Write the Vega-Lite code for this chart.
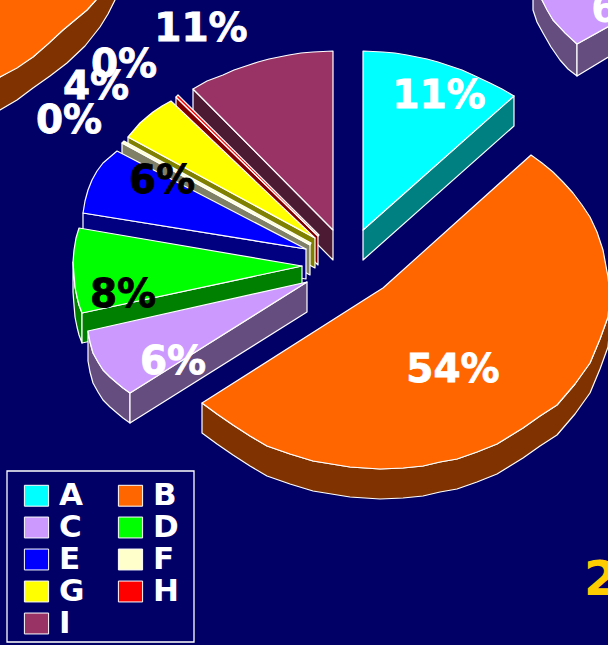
{"$schema":"https://vega.github.io/schema/vega-lite/v6.json","width":608,"height":645,"autosize":{"type":"fit","contains":"padding"},"padding":0,"background":"#000066","view":{"stroke":null},
"datasets":{"faces":[
{"p":"left","g":"B side","n":1,"x":-10,"y":115},{"p":"left","g":"B side","n":2,"x":0,"y":110},{"p":"left","g":"B side","n":3,"x":17,"y":100},{"p":"left","g":"B side","n":4,"x":33,"y":88},{"p":"left","g":"B side","n":5,"x":50,"y":76},{"p":"left","g":"B side","n":6,"x":67,"y":63},{"p":"left","g":"B side","n":7,"x":85,"y":46},{"p":"left","g":"B side","n":8,"x":100,"y":27},{"p":"left","g":"B side","n":9,"x":108,"y":14},{"p":"left","g":"B side","n":10,"x":115,"y":0},{"p":"left","g":"B side","n":11,"x":120,"y":-10},{"p":"left","g":"B side","n":12,"x":96,"y":-10},{"p":"left","g":"B side","n":13,"x":96,"y":0},{"p":"left","g":"B side","n":14,"x":87,"y":10},{"p":"left","g":"B side","n":15,"x":63,"y":30},{"p":"left","g":"B side","n":16,"x":33,"y":57},{"p":"left","g":"B side","n":17,"x":0,"y":77},{"p":"left","g":"B side","n":18,"x":-10,"y":82},
{"p":"left","g":"B","n":1,"x":-10,"y":82},{"p":"left","g":"B","n":2,"x":0,"y":77},{"p":"left","g":"B","n":3,"x":17,"y":68},{"p":"left","g":"B","n":4,"x":33,"y":57},{"p":"left","g":"B","n":5,"x":48,"y":44},{"p":"left","g":"B","n":6,"x":63,"y":30},{"p":"left","g":"B","n":7,"x":75,"y":20},{"p":"left","g":"B","n":8,"x":87,"y":10},{"p":"left","g":"B","n":9,"x":96,"y":0},{"p":"left","g":"B","n":10,"x":96,"y":-10},{"p":"left","g":"B","n":11,"x":-10,"y":-10},
{"p":"right1","g":"C side","n":1,"x":533,"y":-10},{"p":"right1","g":"C side","n":2,"x":533,"y":10},{"p":"right1","g":"C side","n":3,"x":537,"y":22},{"p":"right1","g":"C side","n":4,"x":543,"y":33},{"p":"right1","g":"C side","n":5,"x":551,"y":47},{"p":"right1","g":"C side","n":6,"x":560,"y":60},{"p":"right1","g":"C side","n":7,"x":568,"y":69},{"p":"right1","g":"C side","n":8,"x":577,"y":76},{"p":"right1","g":"C side","n":9,"x":577,"y":44},{"p":"right1","g":"C side","n":10,"x":553,"y":20},{"p":"right1","g":"C side","n":11,"x":542,"y":0},{"p":"right1","g":"C side","n":12,"x":540,"y":-10},
{"p":"right2","g":"C side","n":1,"x":577,"y":76},{"p":"right2","g":"C side","n":2,"x":620,"y":50},{"p":"right2","g":"C side","n":3,"x":620,"y":20},{"p":"right2","g":"C side","n":4,"x":577,"y":44},
{"p":"right","g":"C","n":1,"x":540,"y":-10},{"p":"right","g":"C","n":2,"x":542,"y":0},{"p":"right","g":"C","n":3,"x":547,"y":10},{"p":"right","g":"C","n":4,"x":553,"y":20},{"p":"right","g":"C","n":5,"x":565,"y":33},{"p":"right","g":"C","n":6,"x":577,"y":44},{"p":"right","g":"C","n":7,"x":620,"y":20},{"p":"right","g":"C","n":8,"x":620,"y":-10},
{"p":"main","g":"I side","n":1,"x":193,"y":89},{"p":"main","g":"I side","n":2,"x":333,"y":230},{"p":"main","g":"I side","n":3,"x":333,"y":260},{"p":"main","g":"I side","n":4,"x":193,"y":119},
{"p":"main","g":"I","n":1,"x":333,"y":230},{"p":"main","g":"I","n":2,"x":193,"y":89},{"p":"main","g":"I","n":3,"x":207,"y":81},{"p":"main","g":"I","n":4,"x":223,"y":75},{"p":"main","g":"I","n":5,"x":234,"y":70},{"p":"main","g":"I","n":6,"x":246,"y":66},{"p":"main","g":"I","n":7,"x":258,"y":62},{"p":"main","g":"I","n":8,"x":269,"y":59},{"p":"main","g":"I","n":9,"x":289,"y":55},{"p":"main","g":"I","n":10,"x":301,"y":53},{"p":"main","g":"I","n":11,"x":313,"y":52},{"p":"main","g":"I","n":12,"x":333,"y":51},
{"p":"main","g":"H side","n":1,"x":176,"y":97},{"p":"main","g":"H side","n":2,"x":318,"y":236},{"p":"main","g":"H side","n":3,"x":318,"y":265},{"p":"main","g":"H side","n":4,"x":176,"y":127},
{"p":"main","g":"H","n":1,"x":176,"y":97},{"p":"main","g":"H","n":2,"x":178,"y":95},{"p":"main","g":"H","n":3,"x":319,"y":235},{"p":"main","g":"H","n":4,"x":318,"y":236},
{"p":"main","g":"G side","n":1,"x":128,"y":137},{"p":"main","g":"G side","n":2,"x":315,"y":238},{"p":"main","g":"G side","n":3,"x":315,"y":268},{"p":"main","g":"G side","n":4,"x":128,"y":167},
{"p":"main","g":"G","n":1,"x":315,"y":238},{"p":"main","g":"G","n":2,"x":128,"y":137},{"p":"main","g":"G","n":3,"x":134,"y":130},{"p":"main","g":"G","n":4,"x":140,"y":123},{"p":"main","g":"G","n":5,"x":147,"y":117},{"p":"main","g":"G","n":6,"x":153,"y":112},{"p":"main","g":"G","n":7,"x":162,"y":106},{"p":"main","g":"G","n":8,"x":171,"y":101},
{"p":"main","g":"F side","n":1,"x":122,"y":143},{"p":"main","g":"F side","n":2,"x":310,"y":245},{"p":"main","g":"F side","n":3,"x":310,"y":275},{"p":"main","g":"F side","n":4,"x":122,"y":173},
{"p":"main","g":"F","n":1,"x":122,"y":143},{"p":"main","g":"F","n":2,"x":124,"y":141},{"p":"main","g":"F","n":3,"x":311,"y":243},{"p":"main","g":"F","n":4,"x":310,"y":245},
{"p":"main","g":"E side","n":1,"x":83,"y":213},{"p":"main","g":"E side","n":2,"x":306,"y":249},{"p":"main","g":"E side","n":3,"x":306,"y":279},{"p":"main","g":"E side","n":4,"x":83,"y":243},
{"p":"main","g":"E","n":1,"x":306,"y":249},{"p":"main","g":"E","n":2,"x":83,"y":213},{"p":"main","g":"E","n":3,"x":85,"y":201},{"p":"main","g":"E","n":4,"x":88,"y":190},{"p":"main","g":"E","n":5,"x":92,"y":180},{"p":"main","g":"E","n":6,"x":97,"y":171},{"p":"main","g":"E","n":7,"x":103,"y":163},{"p":"main","g":"E","n":8,"x":110,"y":157},{"p":"main","g":"E","n":9,"x":117,"y":151},
{"p":"main","g":"D side","n":1,"x":73,"y":262},{"p":"main","g":"D side","n":2,"x":74,"y":275},{"p":"main","g":"D side","n":3,"x":75,"y":287},{"p":"main","g":"D side","n":4,"x":77,"y":297},{"p":"main","g":"D side","n":5,"x":79,"y":305},{"p":"main","g":"D side","n":6,"x":82,"y":313},{"p":"main","g":"D side","n":7,"x":82,"y":343},{"p":"main","g":"D side","n":8,"x":79,"y":335},{"p":"main","g":"D side","n":9,"x":77,"y":327},{"p":"main","g":"D side","n":10,"x":75,"y":317},{"p":"main","g":"D side","n":11,"x":74,"y":305},{"p":"main","g":"D side","n":12,"x":73,"y":292},
{"p":"main2","g":"D side","n":1,"x":82,"y":313},{"p":"main2","g":"D side","n":2,"x":302,"y":266},{"p":"main2","g":"D side","n":3,"x":302,"y":296},{"p":"main2","g":"D side","n":4,"x":82,"y":343},
{"p":"main","g":"D","n":1,"x":302,"y":266},{"p":"main","g":"D","n":2,"x":79,"y":228},{"p":"main","g":"D","n":3,"x":76,"y":238},{"p":"main","g":"D","n":4,"x":74,"y":250},{"p":"main","g":"D","n":5,"x":73,"y":262},{"p":"main","g":"D","n":6,"x":74,"y":275},{"p":"main","g":"D","n":7,"x":75,"y":287},{"p":"main","g":"D","n":8,"x":77,"y":297},{"p":"main","g":"D","n":9,"x":79,"y":305},{"p":"main","g":"D","n":10,"x":82,"y":313},
{"p":"main","g":"C side","n":1,"x":88,"y":331},{"p":"main","g":"C side","n":2,"x":90,"y":342},{"p":"main","g":"C side","n":3,"x":93,"y":353},{"p":"main","g":"C side","n":4,"x":98,"y":362},{"p":"main","g":"C side","n":5,"x":103,"y":370},{"p":"main","g":"C side","n":6,"x":110,"y":377},{"p":"main","g":"C side","n":7,"x":117,"y":383},{"p":"main","g":"C side","n":8,"x":123,"y":388},{"p":"main","g":"C side","n":9,"x":130,"y":393},{"p":"main","g":"C side","n":10,"x":130,"y":423},{"p":"main","g":"C side","n":11,"x":123,"y":418},{"p":"main","g":"C side","n":12,"x":117,"y":413},{"p":"main","g":"C side","n":13,"x":110,"y":407},{"p":"main","g":"C side","n":14,"x":103,"y":400},{"p":"main","g":"C side","n":15,"x":98,"y":392},{"p":"main","g":"C side","n":16,"x":93,"y":383},{"p":"main","g":"C side","n":17,"x":90,"y":372},{"p":"main","g":"C side","n":18,"x":88,"y":361},
{"p":"main2","g":"C side","n":1,"x":130,"y":393},{"p":"main2","g":"C side","n":2,"x":307,"y":282},{"p":"main2","g":"C side","n":3,"x":307,"y":312},{"p":"main2","g":"C side","n":4,"x":130,"y":423},
{"p":"main","g":"C","n":1,"x":307,"y":282},{"p":"main","g":"C","n":2,"x":88,"y":331},{"p":"main","g":"C","n":3,"x":90,"y":342},{"p":"main","g":"C","n":4,"x":93,"y":353},{"p":"main","g":"C","n":5,"x":98,"y":362},{"p":"main","g":"C","n":6,"x":103,"y":370},{"p":"main","g":"C","n":7,"x":110,"y":377},{"p":"main","g":"C","n":8,"x":117,"y":383},{"p":"main","g":"C","n":9,"x":123,"y":388},{"p":"main","g":"C","n":10,"x":130,"y":393},
{"p":"main","g":"A side","n":1,"x":363,"y":230},{"p":"main","g":"A side","n":2,"x":514,"y":96},{"p":"main","g":"A side","n":3,"x":514,"y":126},{"p":"main","g":"A side","n":4,"x":363,"y":260},
{"p":"main","g":"A","n":1,"x":363,"y":230},{"p":"main","g":"A","n":2,"x":363,"y":51},{"p":"main","g":"A","n":3,"x":383,"y":52},{"p":"main","g":"A","n":4,"x":395,"y":53},{"p":"main","g":"A","n":5,"x":407,"y":55},{"p":"main","g":"A","n":6,"x":427,"y":59},{"p":"main","g":"A","n":7,"x":438,"y":62},{"p":"main","g":"A","n":8,"x":450,"y":66},{"p":"main","g":"A","n":9,"x":462,"y":70},{"p":"main","g":"A","n":10,"x":473,"y":75},{"p":"main","g":"A","n":11,"x":490,"y":83},{"p":"main","g":"A","n":12,"x":502,"y":89},{"p":"main","g":"A","n":13,"x":514,"y":96},
{"p":"main","g":"B side","n":1,"x":202,"y":403},{"p":"main","g":"B side","n":2,"x":217,"y":414},{"p":"main","g":"B side","n":3,"x":233,"y":425},{"p":"main","g":"B side","n":4,"x":250,"y":436},{"p":"main","g":"B side","n":5,"x":267,"y":446},{"p":"main","g":"B side","n":6,"x":290,"y":454},{"p":"main","g":"B side","n":7,"x":313,"y":461},{"p":"main","g":"B side","n":8,"x":350,"y":467},{"p":"main","g":"B side","n":9,"x":380,"y":469},{"p":"main","g":"B side","n":10,"x":403,"y":468},{"p":"main","g":"B side","n":11,"x":423,"y":466},{"p":"main","g":"B side","n":12,"x":440,"y":462},{"p":"main","g":"B side","n":13,"x":457,"y":459},{"p":"main","g":"B side","n":14,"x":477,"y":452},{"p":"main","g":"B side","n":15,"x":497,"y":444},{"p":"main","g":"B side","n":16,"x":510,"y":436},{"p":"main","g":"B side","n":17,"x":523,"y":428},{"p":"main","g":"B side","n":18,"x":540,"y":416},{"p":"main","g":"B side","n":19,"x":557,"y":405},{"p":"main","g":"B side","n":20,"x":575,"y":384},{"p":"main","g":"B side","n":21,"x":590,"y":363},{"p":"main","g":"B side","n":22,"x":600,"y":339},{"p":"main","g":"B side","n":23,"x":608,"y":317},{"p":"main","g":"B side","n":24,"x":610,"y":295},{"p":"main","g":"B side","n":25,"x":610,"y":325},{"p":"main","g":"B side","n":26,"x":608,"y":347},{"p":"main","g":"B side","n":27,"x":600,"y":369},{"p":"main","g":"B side","n":28,"x":590,"y":393},{"p":"main","g":"B side","n":29,"x":575,"y":414},{"p":"main","g":"B side","n":30,"x":557,"y":435},{"p":"main","g":"B side","n":31,"x":540,"y":446},{"p":"main","g":"B side","n":32,"x":523,"y":458},{"p":"main","g":"B side","n":33,"x":510,"y":466},{"p":"main","g":"B side","n":34,"x":497,"y":474},{"p":"main","g":"B side","n":35,"x":477,"y":482},{"p":"main","g":"B side","n":36,"x":457,"y":489},{"p":"main","g":"B side","n":37,"x":440,"y":492},{"p":"main","g":"B side","n":38,"x":423,"y":496},{"p":"main","g":"B side","n":39,"x":403,"y":498},{"p":"main","g":"B side","n":40,"x":380,"y":499},{"p":"main","g":"B side","n":41,"x":350,"y":497},{"p":"main","g":"B side","n":42,"x":313,"y":491},{"p":"main","g":"B side","n":43,"x":290,"y":484},{"p":"main","g":"B side","n":44,"x":267,"y":476},{"p":"main","g":"B side","n":45,"x":250,"y":466},{"p":"main","g":"B side","n":46,"x":233,"y":455},{"p":"main","g":"B side","n":47,"x":217,"y":444},{"p":"main","g":"B side","n":48,"x":202,"y":433},
{"p":"main","g":"B","n":1,"x":202,"y":403},{"p":"main","g":"B","n":2,"x":364,"y":300},{"p":"main","g":"B","n":3,"x":375,"y":293},{"p":"main","g":"B","n":4,"x":383,"y":288},{"p":"main","g":"B","n":5,"x":531,"y":155},{"p":"main","g":"B","n":6,"x":542,"y":163},{"p":"main","g":"B","n":7,"x":553,"y":172},{"p":"main","g":"B","n":8,"x":563,"y":182},{"p":"main","g":"B","n":9,"x":573,"y":193},{"p":"main","g":"B","n":10,"x":582,"y":205},{"p":"main","g":"B","n":11,"x":590,"y":217},{"p":"main","g":"B","n":12,"x":597,"y":232},{"p":"main","g":"B","n":13,"x":603,"y":250},{"p":"main","g":"B","n":14,"x":608,"y":277},{"p":"main","g":"B","n":15,"x":610,"y":295},{"p":"main","g":"B","n":16,"x":608,"y":317},{"p":"main","g":"B","n":17,"x":600,"y":339},{"p":"main","g":"B","n":18,"x":590,"y":363},{"p":"main","g":"B","n":19,"x":575,"y":384},{"p":"main","g":"B","n":20,"x":557,"y":405},{"p":"main","g":"B","n":21,"x":540,"y":416},{"p":"main","g":"B","n":22,"x":523,"y":428},{"p":"main","g":"B","n":23,"x":510,"y":436},{"p":"main","g":"B","n":24,"x":497,"y":444},{"p":"main","g":"B","n":25,"x":477,"y":452},{"p":"main","g":"B","n":26,"x":457,"y":459},{"p":"main","g":"B","n":27,"x":440,"y":462},{"p":"main","g":"B","n":28,"x":423,"y":466},{"p":"main","g":"B","n":29,"x":403,"y":468},{"p":"main","g":"B","n":30,"x":380,"y":469},{"p":"main","g":"B","n":31,"x":350,"y":467},{"p":"main","g":"B","n":32,"x":313,"y":461},{"p":"main","g":"B","n":33,"x":290,"y":454},{"p":"main","g":"B","n":34,"x":267,"y":446},{"p":"main","g":"B","n":35,"x":250,"y":436},{"p":"main","g":"B","n":36,"x":233,"y":425},{"p":"main","g":"B","n":37,"x":217,"y":414}
],
"labels":[
{"series":"A","label":"11%","x":439,"y":108},{"series":"B","label":"54%","x":453,"y":382},{"series":"C","label":"6%","x":173,"y":374},{"series":"D","label":"8%","x":123,"y":307},{"series":"E","label":"6%","x":162,"y":193},{"series":"F","label":"0%","x":69,"y":133},{"series":"G","label":"4%","x":96,"y":99},{"series":"H","label":"0%","x":124,"y":77},{"series":"I","label":"11%","x":201,"y":41}
]},
"layer":[
{"data":{"values":[{"x":7,"x2":194,"y":471,"y2":642}]},"mark":{"type":"rect","fill":null,"stroke":"white","strokeWidth":1.3},
"encoding":{"x":{"field":"x","type":"quantitative","scale":{"domain":[0,608],"nice":false,"zero":false},"axis":null},"x2":{"field":"x2"},"y":{"field":"y","type":"quantitative","scale":{"domain":[0,645],"nice":false,"zero":false,"reverse":true},"axis":null},"y2":{"field":"y2"}}},
{"data":{"name":"faces"},"mark":{"type":"line","interpolate":"linear-closed","stroke":"white","strokeWidth":1.2,"strokeJoin":"round","clip":true},
"encoding":{
"x":{"field":"x","type":"quantitative"},
"y":{"field":"y","type":"quantitative"},
"detail":{"field":"p"},
"order":{"field":"n","type":"quantitative"},
"fill":{"field":"g","type":"nominal","scale":{"domain":["A","B","C","D","E","F","G","H","I","A side","B side","C side","D side","E side","F side","G side","H side","I side"],"range":["#00FFFF","#FF6600","#CC99FF","#00FF00","#0000FF","#FFFFCC","#FFFF00","#FF0000","#993366","#008080","#803300","#664D80","#008000","#000080","#808066","#808000","#800000","#4D1A33"]},
"legend":{"title":null,"values":["A","B","C","D","E","F","G","H","I"],"orient":"none","direction":"horizontal","legendX":21,"legendY":480,"columns":2,"columnPadding":30,"rowPadding":0,"padding":0,"labelColor":"white","labelFont":"DejaVu Sans","labelFontWeight":"bold","labelFontSize":31,"labelOffset":7,"labelLimit":60,"symbolType":"M -1.1 -0.95 H 1.1 V 0.95 H -1.1 Z","symbolSize":484,"symbolStrokeColor":"white","symbolStrokeWidth":1,"symbolOpacity":1}}
}},
{"data":{"name":"labels"},"mark":{"type":"text","font":"DejaVu Sans","fontWeight":"bold","fontSize":39,"align":"center","baseline":"alphabetic","strokeWidth":0.8},
"encoding":{
"x":{"field":"x","type":"quantitative"},
"y":{"field":"y","type":"quantitative"},
"text":{"field":"label"},
"color":{"field":"series","type":"nominal","legend":null,"scale":{"domain":["A","B","C","D","E","F","G","H","I"],"range":["white","white","white","black","black","white","white","white","white"]}},
"stroke":{"field":"series","type":"nominal","legend":null,"scale":{"domain":["A","B","C","D","E","F","G","H","I"],"range":["white","white","white","black","black","white","white","white","white"]}}
}},
{"data":{"values":[{"label":"6%","x":591,"y":22}]},"mark":{"type":"text","font":"DejaVu Sans","fontWeight":"bold","fontSize":39,"align":"left","baseline":"alphabetic","color":"white","clip":true},
"encoding":{"x":{"field":"x","type":"quantitative"},"y":{"field":"y","type":"quantitative"},"text":{"field":"label"}}},
{"data":{"values":[{"label":"2","x":584,"y":595}]},"mark":{"type":"text","font":"DejaVu Sans","fontWeight":"bold","fontSize":48,"align":"left","baseline":"alphabetic","color":"#FFCC00","clip":true},
"encoding":{"x":{"field":"x","type":"quantitative"},"y":{"field":"y","type":"quantitative"},"text":{"field":"label"}}}
]}
